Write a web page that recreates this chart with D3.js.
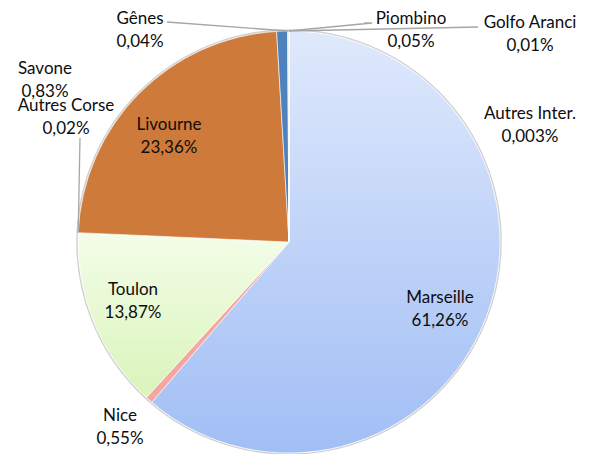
<!DOCTYPE html>
<html>
<head>
<meta charset="utf-8">
<script src="https://cdn.jsdelivr.net/npm/d3@7"></script>
<style>
  body { margin: 0; background: #fff; }
  text { font-family: Lato, "Open Sans", sans-serif; font-size: 17px; fill: #0d0d0d; }
</style>
</head>
<body>
<div id="chart"></div>
<script>
const categories = ['Marseille', 'Nice', 'Toulon', 'Autres Corse', 'Livourne', 'Savone', 'Gênes', 'Piombino', 'Golfo Aranci', 'Autres Inter.'];
const values = [61.26, 0.55, 13.87, 0.02, 23.36, 0.83, 0.04, 0.05, 0.01, 0.003];
const valueLabels = ['61,26%', '0,55%', '13,87%', '0,02%', '23,36%', '0,83%', '0,04%', '0,05%', '0,01%', '0,003%'];
const colors = ['url(#gMars)', '#f4a7a0', 'url(#gToul)', '#9bbb59', '#cd7a3a', '#4f81bd', '#8064a2', '#4bacc6', '#f79646', '#2c4d75'];

// label centres (x, y of first line) and optional leader line bends
const labelPos = [
  [440, 303], [120, 421], [133, 295], [66, 111], [169, 130],
  [45, 74], [140, 24], [411, 24], [530, 28], [530, 119]
];
const leaders = {
  'Autres Corse': [[80, 138]],
  'Gênes': [[167, 22]],
  'Piombino': [[364, 23], [372, 23]],
  'Golfo Aranci': [[478, 27]]
};

const width = 590, height = 454;
const cx = 289, cy = 242, r = 211;

const svg = d3.select('#chart').append('svg').attr('width', width).attr('height', height);
const defs = svg.append('defs');

// gradients live in the translated pie group's coordinates
const gm = defs.append('linearGradient').attr('id', 'gMars')
  .attr('gradientUnits', 'userSpaceOnUse').attr('x1', 0).attr('y1', -r).attr('x2', 0).attr('y2', r);
gm.append('stop').attr('offset', '0%').attr('stop-color', '#dfe9fc');
gm.append('stop').attr('offset', '100%').attr('stop-color', '#a1bef5');

const gt = defs.append('linearGradient').attr('id', 'gToul')
  .attr('gradientUnits', 'userSpaceOnUse').attr('x1', 0).attr('y1', -10).attr('x2', 0).attr('y2', 160);
gt.append('stop').attr('offset', '0%').attr('stop-color', '#f4fde9');
gt.append('stop').attr('offset', '100%').attr('stop-color', '#d8f4b8');

const pie = d3.pie().sort(null).value(d => d).startAngle(0).endAngle(2 * Math.PI);
const arcs = pie(values);
const arc = d3.arc().innerRadius(0).outerRadius(r);

const g = svg.append('g').attr('transform', `translate(${cx},${cy})`);

g.append('circle').attr('r', r + 1).attr('fill', 'none').attr('stroke', '#d0d0d0').attr('stroke-width', 1.5);

g.selectAll('path.slice').data(arcs).enter().append('path')
  .attr('class', 'slice')
  .attr('d', arc)
  .attr('fill', (d, i) => colors[i])
  .attr('stroke', '#fff')
  .attr('stroke-width', 0.6);

// leader lines
const edgePoint = d => {
  const a = (d.startAngle + d.endAngle) / 2;
  return [cx + r * Math.sin(a), cy - r * Math.cos(a)];
};
categories.forEach((c, i) => {
  if (!leaders[c]) return;
  const pts = leaders[c].concat([edgePoint(arcs[i])]);
  svg.append('path')
    .attr('d', d3.line()(pts))
    .attr('fill', 'none')
    .attr('stroke', '#a6a6a6')
    .attr('stroke-width', 1.3);
});

// labels
const lab = svg.selectAll('text.lab').data(categories).enter().append('text')
  .attr('class', 'lab')
  .attr('text-anchor', 'middle');
lab.append('tspan').attr('x', (d, i) => labelPos[i][0]).attr('y', (d, i) => labelPos[i][1]).text(d => d);
lab.append('tspan').attr('x', (d, i) => labelPos[i][0]).attr('y', (d, i) => labelPos[i][1] + 23).text((d, i) => valueLabels[i]);
</script>
</body>
</html>
